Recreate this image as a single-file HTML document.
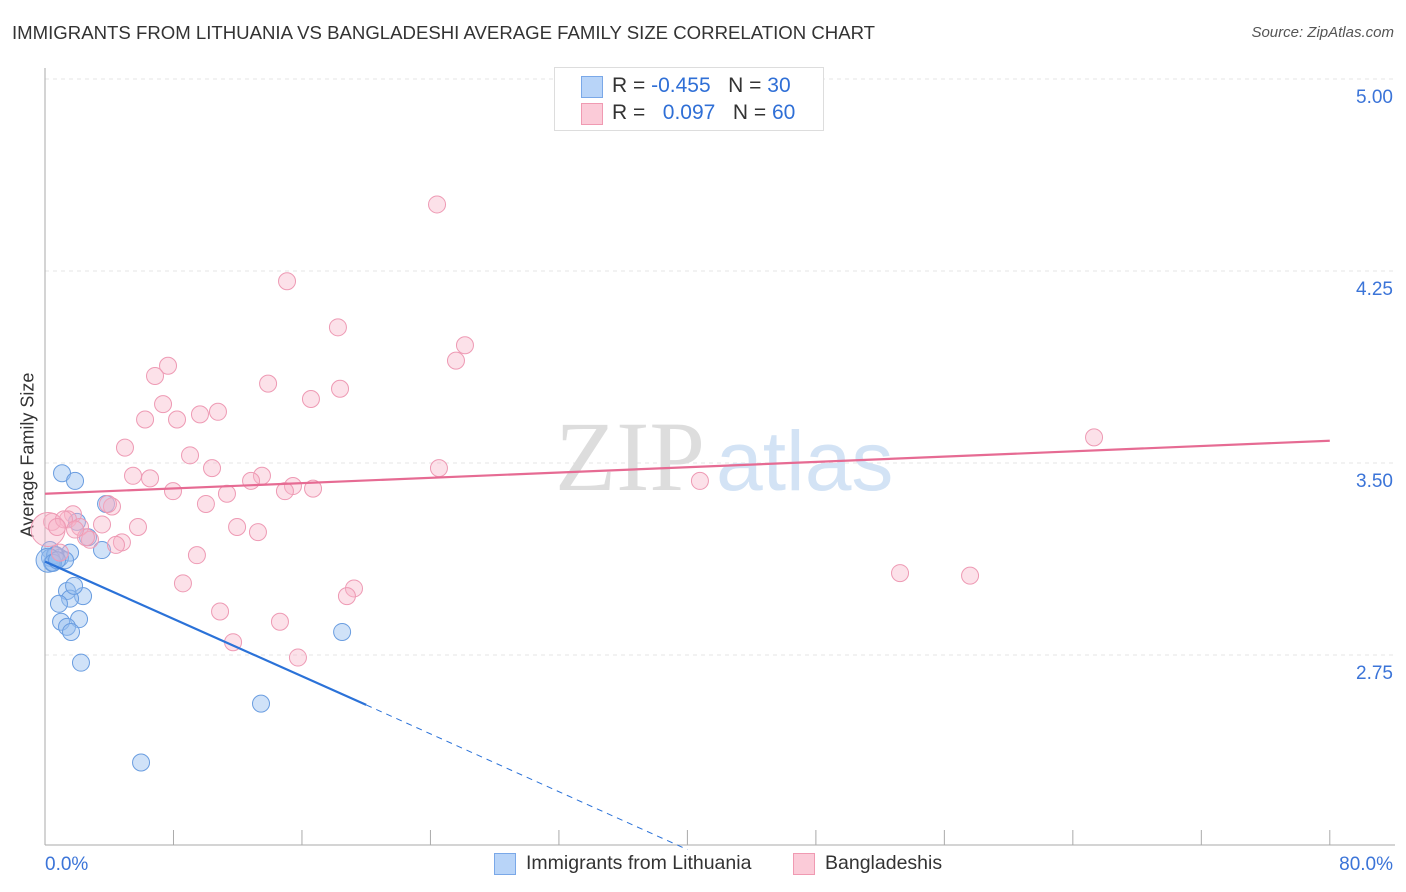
<!DOCTYPE html>
<html><head><meta charset="utf-8">
<style>
body{margin:0;background:#fff;font-family:"Liberation Sans",sans-serif;}
#wrap{position:relative;width:1406px;height:892px;overflow:hidden}
.t{position:absolute;white-space:nowrap}
</style></head>
<body>
<div id="wrap">
<div class="t" style="left:12px;top:22px;font-size:18.6px;color:#333">IMMIGRANTS FROM LITHUANIA VS BANGLADESHI AVERAGE FAMILY SIZE CORRELATION CHART</div>
<div class="t" style="right:12px;top:24px;font-size:15px;color:#555;font-style:italic">Source: ZipAtlas.com</div>
<div class="t" style="left:28px;top:455px;font-size:18px;color:#333;transform:translate(-50%,-50%) rotate(-90deg)">Average Family Size</div>
<svg id="plot" width="1406" height="892" style="position:absolute;left:0;top:0"></svg>
<div style="position:absolute;left:554px;top:67px;width:268px;height:62px;border:1px solid #ddd;background:#fff">
 <div style="position:absolute;left:26px;top:8px;width:20px;height:20px;background:#b8d4f8;border:1px solid #7aa8e8"></div>
 <div class="t" style="left:57px;top:6px;font-size:21px;color:#333">R = <span style="color:#2f6fd6">-0.455</span>&nbsp;&nbsp;&nbsp;N = <span style="color:#2f6fd6">30</span></div>
 <div style="position:absolute;left:26px;top:35px;width:20px;height:20px;background:#fbcbd8;border:1px solid #f09ab2"></div>
 <div class="t" style="left:57px;top:33px;font-size:21px;color:#333">R = &nbsp;&nbsp;<span style="color:#2f6fd6">0.097</span>&nbsp;&nbsp;&nbsp;N = <span style="color:#2f6fd6">60</span></div>
</div>
<div style="position:absolute;left:494px;top:853px;width:20px;height:20px;background:#b8d4f8;border:1px solid #7aa8e8"></div>
<div class="t" style="left:526px;top:852px;font-size:19.5px;color:#333">Immigrants from Lithuania</div>
<div style="position:absolute;left:793px;top:853px;width:20px;height:20px;background:#fbcbd8;border:1px solid #f09ab2"></div>
<div class="t" style="left:825px;top:852px;font-size:19.5px;color:#333">Bangladeshis</div>
</div>
<script>
const yTicks=[5.00,4.25,3.50,2.75];
const yTickLabels=["5.00","4.25","3.50","2.75"];
const xTickLabels=["0.0%","80.0%"];
const blueX=[1.06,1.87,3.80,1.99,0.31,0.68,1.56,0.93,1.25,0.44,3.55,1.37,2.37,1.56,0.87,1.00,2.12,1.37,1.62,2.24,18.5,13.45,5.98,0.31,0.62,0.19,0.5,0.75,2.68,1.81];
const blueY=[3.46,3.43,3.34,3.27,3.16,3.14,3.15,3.13,3.12,3.11,3.16,3.00,2.98,2.97,2.95,2.88,2.89,2.86,2.84,2.72,2.84,2.56,2.33,3.13,3.14,3.12,3.11,3.12,3.21,3.02];
const pinkX=[24.41,15.07,18.24,26.15,25.59,7.66,6.85,13.89,18.37,16.56,7.35,10.77,9.65,6.23,8.22,4.98,9.03,10.40,5.48,6.54,13.51,12.83,15.44,7.97,14.94,16.69,11.33,10.02,4.17,3.92,24.53,40.78,65.32,53.24,57.60,1.74,1.43,0.44,0.19,3.55,2.18,2.80,5.79,2.55,4.79,4.42,11.96,13.26,9.46,8.59,19.24,18.80,10.90,14.63,11.71,15.75,1.18,0.75,0.93,1.87];
const pinkY=[4.51,4.21,4.03,3.96,3.90,3.88,3.84,3.81,3.79,3.75,3.73,3.70,3.69,3.67,3.67,3.56,3.53,3.48,3.45,3.44,3.45,3.43,3.41,3.39,3.39,3.40,3.38,3.34,3.33,3.34,3.48,3.43,3.60,3.07,3.06,3.30,3.28,3.27,3.24,3.26,3.25,3.20,3.25,3.21,3.19,3.18,3.25,3.23,3.14,3.03,3.01,2.98,2.92,2.88,2.80,2.74,3.28,3.25,3.15,3.24];
const blueTrend=[0,3.115,20,2.555,40,1.99];
const pinkTrend=[0,3.38,80,3.587];
const X=v=>45+v*16.06, Y=v=>463-(v-3.5)*256;
const NS="http://www.w3.org/2000/svg", svg=document.getElementById('plot');
function mk(tag,a){const e=document.createElementNS(NS,tag);for(const k in a)e.setAttribute(k,a[k]);svg.appendChild(e);return e;}
yTicks.forEach((v,i)=>{
 const g=mk('line',{x1:45,x2:1395,y1:Y(v),y2:Y(v),stroke:'#e4e4e4','stroke-dasharray':'4,4'});
 
 
 const t=mk('text',{x:1393,y:Y(v)+24,'text-anchor':'end','font-size':19,fill:'#3b74d8','font-family':'Liberation Sans'});
 t.textContent=yTickLabels[i];
 
 
});
const ax=mk('line',{x1:45,x2:45,y1:68,y2:845,stroke:'#aaa'});


const bx=mk('line',{x1:45,x2:1395,y1:845,y2:845,stroke:'#aaa'});


for(let i=0;i<=10;i++){const tk=mk('line',{x1:X(i*8),x2:X(i*8),y1:830,y2:845,stroke:'#aaa'});
 
 }
[[0,'start',45],[80,'end',1393]].forEach((d,i)=>{const t=mk('text',{x:d[2],y:870,'text-anchor':d[1],'font-size':19,fill:'#3b74d8','font-family':'Liberation Sans'});t.textContent=xTickLabels[i];
 
 });
const wm=mk('text',{x:555,y:490,'font-size':100,'font-family':'Liberation Serif',fill:'#ddd'});wm.textContent='ZIP';


const wm2=mk('text',{x:716,y:490,'font-size':84,'font-family':'Liberation Sans',fill:'#d3e3f5'});wm2.textContent='atlas';


blueX.forEach((v,i)=>{const c=mk('circle',{cx:X(v),cy:Y(blueY[i]),r:i==25?12:8.5,fill:'rgba(150,190,240,0.45)',stroke:'#6a9de0','stroke-width':1});
 
 });
pinkX.forEach((v,i)=>{const c=mk('circle',{cx:X(v),cy:Y(pinkY[i]),r:i==38?17:8.5,fill:'rgba(248,180,200,0.4)',stroke:'#ee9ab4','stroke-width':1});
 
 });
const bl=mk('line',{x1:X(blueTrend[0]),y1:Y(blueTrend[1]),x2:X(blueTrend[2]),y2:Y(blueTrend[3]),stroke:'#2b72d8','stroke-width':2.2});


const bd=mk('line',{x1:X(blueTrend[2]),y1:Y(blueTrend[3]),x2:X(blueTrend[4]),y2:Y(blueTrend[5]),stroke:'#2b72d8','stroke-width':1,'stroke-dasharray':'6,5'});


const pl=mk('line',{x1:X(pinkTrend[0]),y1:Y(pinkTrend[1]),x2:X(pinkTrend[2]),y2:Y(pinkTrend[3]),stroke:'#e66b93','stroke-width':2.2});


</script>
</body></html>
